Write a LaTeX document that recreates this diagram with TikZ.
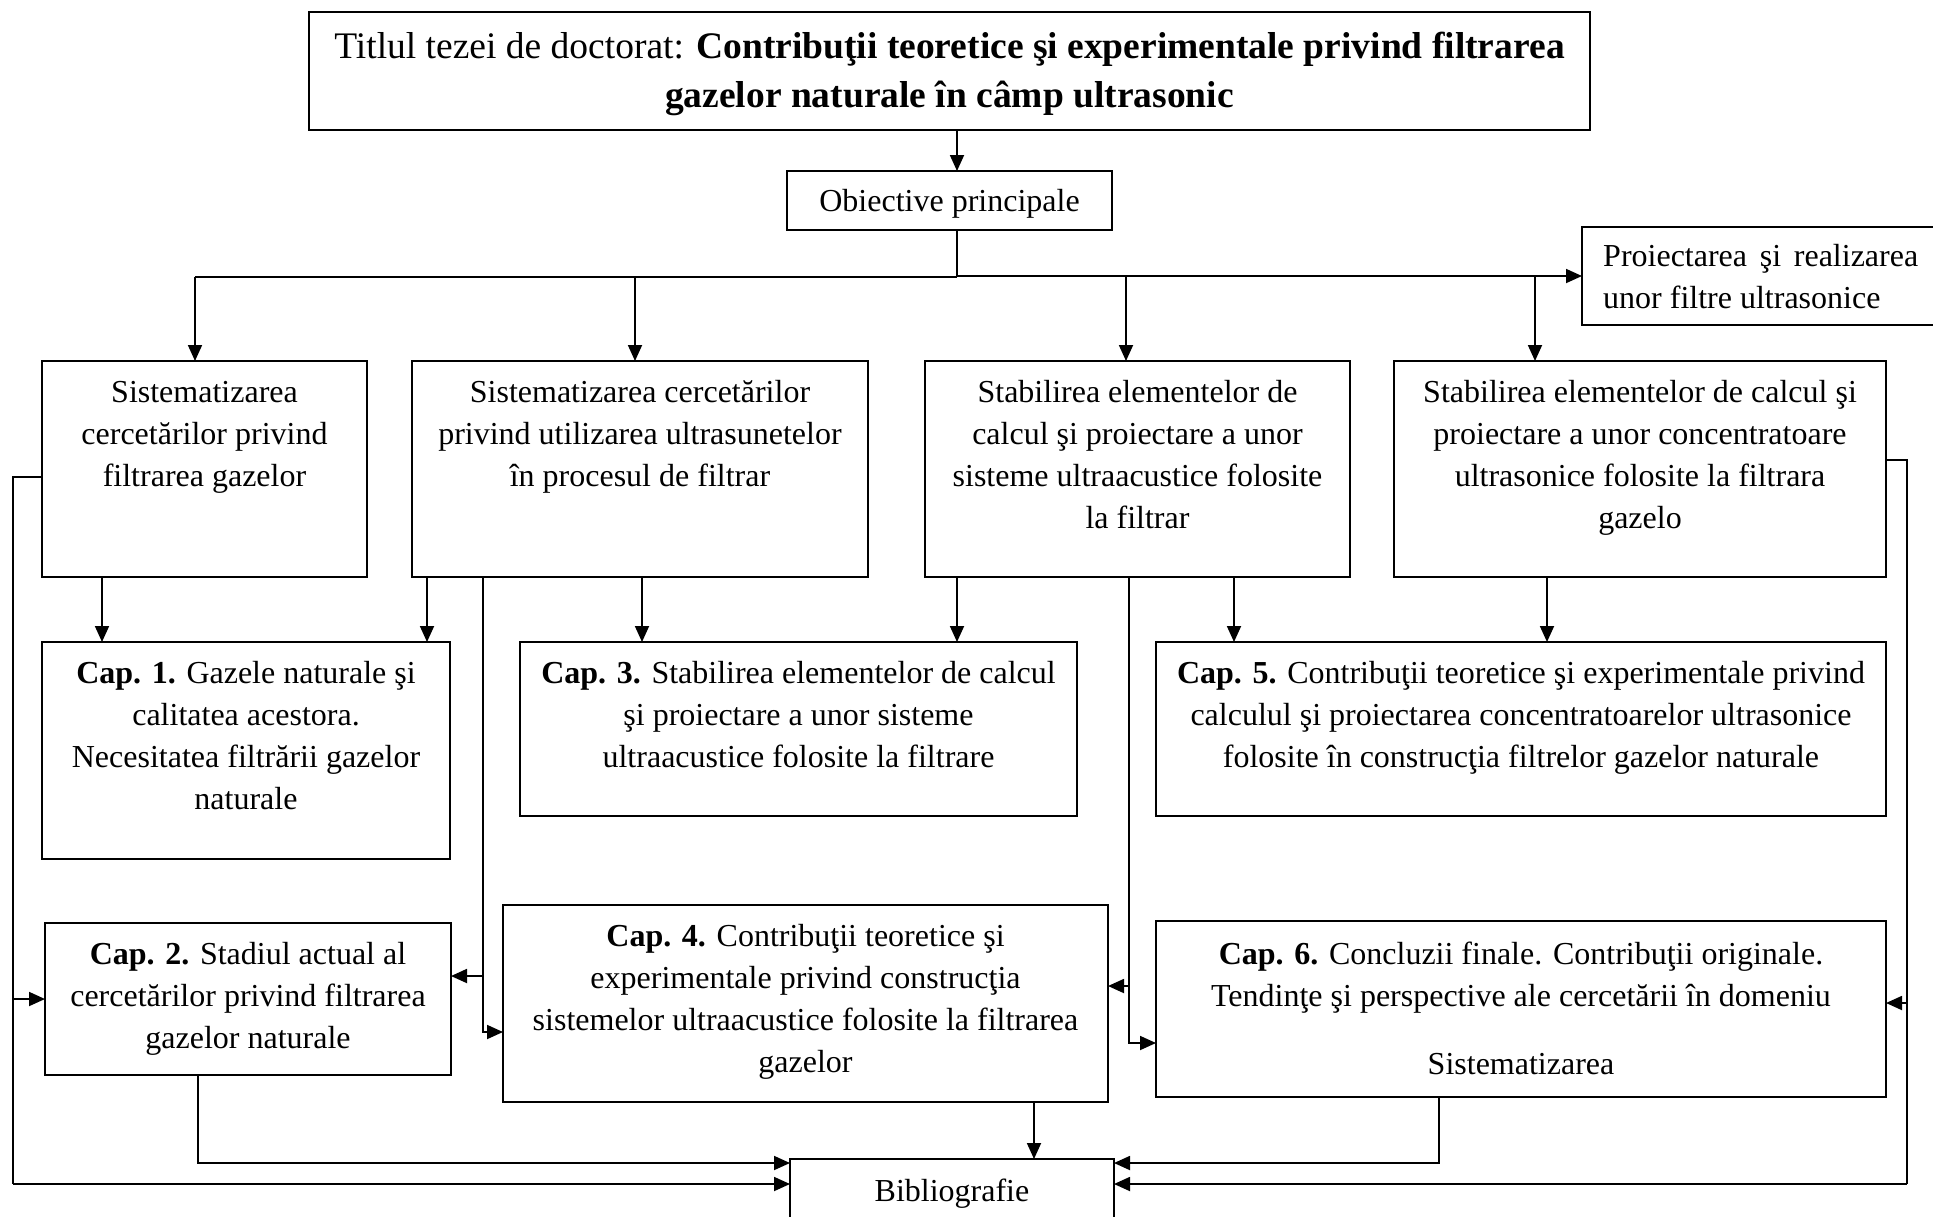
\documentclass[tikz,border=0pt]{standalone}
\usepackage{fontspec}
\setmainfont{Liberation Serif}
\usetikzlibrary{arrows.meta,fit}
\begin{document}
\begin{tikzpicture}[x=1pt,y=-1pt,
  box/.style={draw,line width=2pt,inner sep=0pt,outer sep=0pt},
  txt/.style={anchor=base,align=center,inner sep=0pt,font=\fontsize{32}{42}\selectfont},
  conn/.style={line width=1.8pt},
  arr/.style={conn,-{Triangle[length=16pt,width=14pt]}}]
\useasboundingbox (0,0) rectangle (1933,1216);
\clip (0,0) rectangle (1933,1216);
\fill[white] (0,0) rectangle (1933,1216);

% boxes (text nodes are anchored at the baseline of their LAST line)
\node[box,fit={(309,12) (1590,130)}] (T) {};
\node[txt,font=\fontsize{37.5}{49}\selectfont] (tT) at (949.5,107) {Titlul tezei de doctorat: \textbf{Contribuţii teoretice şi experimentale privind filtrarea}\\\textbf{gazelor naturale în câmp ultrasonic}};

\node[box,fit={(787,171) (1112,230)}] (O) {};
\node[txt] (tO) at (949.5,211) {Obiective principale};

\node[box,fit={(1582,227) (1960,325)}] (P) {};
\node[txt,anchor=base west,align=left] (tP) at (1603,308) {\makebox[315pt][s]{Proiectarea şi realizarea}\\unor filtre ultrasonice};

\node[box,fit={(42,361) (367,577)}] (A) {};
\node[txt] (tA) at (204.5,486) {Sistematizarea\\cercetărilor privind\\filtrarea gazelor};

\node[box,fit={(412,361) (868,577)}] (B) {};
\node[txt] (tB) at (640,486) {Sistematizarea cercetărilor\\privind utilizarea ultrasunetelor\\în procesul de filtrar};

\node[box,fit={(925,361) (1350,577)}] (C) {};
\node[txt] (tC) at (1137.5,528) {Stabilirea elementelor de\\calcul şi proiectare a unor\\sisteme ultraacustice folosite\\la filtrar};

\node[box,fit={(1394,361) (1886,577)}] (D) {};
\node[txt] (tD) at (1640,528) {Stabilirea elementelor de calcul şi\\proiectare a unor concentratoare\\ultrasonice folosite la filtrara\\gazelo};

\node[box,fit={(42,642) (450,859)}] (C1) {};
\node[txt] (tC1) at (246,809) {\textbf{Cap. 1.} Gazele naturale şi\\calitatea acestora.\\Necesitatea filtrării gazelor\\naturale};

\node[box,fit={(520,642) (1077,816)}] (C3) {};
\node[txt] (tC3) at (798.5,767) {\textbf{Cap. 3.} Stabilirea elementelor de calcul\\şi proiectare a unor sisteme\\ultraacustice folosite la filtrare};

\node[box,fit={(1156,642) (1886,816)}] (C5) {};
\node[txt] (tC5) at (1521,767) {\textbf{Cap. 5.} Contribuţii teoretice şi experimentale privind\\calculul şi proiectarea concentratoarelor ultrasonice\\folosite în construcţia filtrelor gazelor naturale};

\node[box,fit={(45,923) (451,1075)}] (C2) {};
\node[txt] (tC2) at (248,1048) {\textbf{Cap. 2.} Stadiul actual al\\cercetărilor privind filtrarea\\gazelor naturale};

\node[box,fit={(503,905) (1108,1102)}] (C4) {};
\node[txt] (tC4) at (805.5,1072) {\textbf{Cap. 4.} Contribuţii teoretice şi\\experimentale privind construcţia\\sistemelor ultraacustice folosite la filtrarea\\gazelor};

\node[box,fit={(1156,921) (1886,1097)}] (C6) {};
\node[txt] (tC6) at (1521,1074) {\textbf{Cap. 6.} Concluzii finale. Contribuţii originale.\\Tendinţe şi perspective ale cercetării în domeniu\\[26pt]Sistematizarea};

\node[box,fit={(790,1159) (1114,1270)}] (Bib) {};
\node[txt] (tBib) at (952,1201) {Bibliografie};

% top connectors
\draw[arr] ([xshift=7.5pt]T.south) -- ([xshift=7.5pt]O.north);
\coordinate (b1) at (195,277);
\coordinate (b2) at (635,277);
\coordinate (b3) at (1126,277);
\coordinate (b4) at (1535,277);
\draw[arr] ([xshift=7.5pt]O.south) |- (P.west);
\draw[conn] (b1) -- ([xshift=7.5pt]O.south |- b1);
\draw[arr] (b1) -- (b1 |- A.north);
\draw[arr] (b2) -- (b2 |- B.north);
\draw[arr] (b3) -- (b3 |- C.north);
\draw[arr] (b4) -- (b4 |- D.north);

% row 1 -> row 2
\draw[arr] ([xshift=60pt]A.south west) coordinate (s1) -- (s1 |- C1.north);
\draw[arr] ([xshift=15pt]B.south west) coordinate (s2) -- (s2 |- C1.north);
\draw[arr] ([xshift=230pt]B.south west) coordinate (s3) -- (s3 |- C3.north);
\draw[arr] ([xshift=32pt]C.south west) coordinate (s4) -- (s4 |- C3.north);
\draw[arr] ([xshift=309pt]C.south west) coordinate (s5) -- (s5 |- C5.north);
\draw[arr] ([xshift=153pt]D.south west) coordinate (s6) -- (s6 |- C5.north);

% left bus
\coordinate (L) at (13,1184);
\draw[conn] ([yshift=-8pt]A.west) -| (L);
\draw[arr] (L) -- (L -| Bib.west);
\draw[arr] (C2.west -| L) -- (C2.west);

% right bus
\coordinate (R) at (1907,1184);
\draw[conn] ([yshift=9pt]D.east) -| (R);
\draw[arr] (R) -- (R -| Bib.east);
\coordinate (c6e) at ([yshift=6pt]C6.east);
\draw[arr] (c6e -| R) -- (c6e);

% from B
\coordinate (bd) at ([xshift=71pt]B.south west);
\draw[arr] (bd) |- ([yshift=-28.5pt]C4.west);
\coordinate (c2e) at ([yshift=23pt]C2.east);
\draw[arr] (c2e -| bd) -- (c2e);

% from C
\coordinate (cd) at ([xshift=204pt]C.south west);
\draw[arr] (cd) |- ([yshift=-34pt]C6.west);
\coordinate (c4e) at ([yshift=17.5pt]C4.east);
\draw[arr] (c4e -| cd) -- (c4e);

% to bibliography
\draw[arr] ([xshift=153pt]C2.south west) |- ([yshift=-4pt]Bib.north west);
\draw[arr] ([xshift=283pt]C6.south west) |- ([yshift=-4pt]Bib.north east);
\draw[arr] ([xshift=531pt]C4.south west) coordinate (s7) -- (s7 |- Bib.north);
\end{tikzpicture}
\end{document}
